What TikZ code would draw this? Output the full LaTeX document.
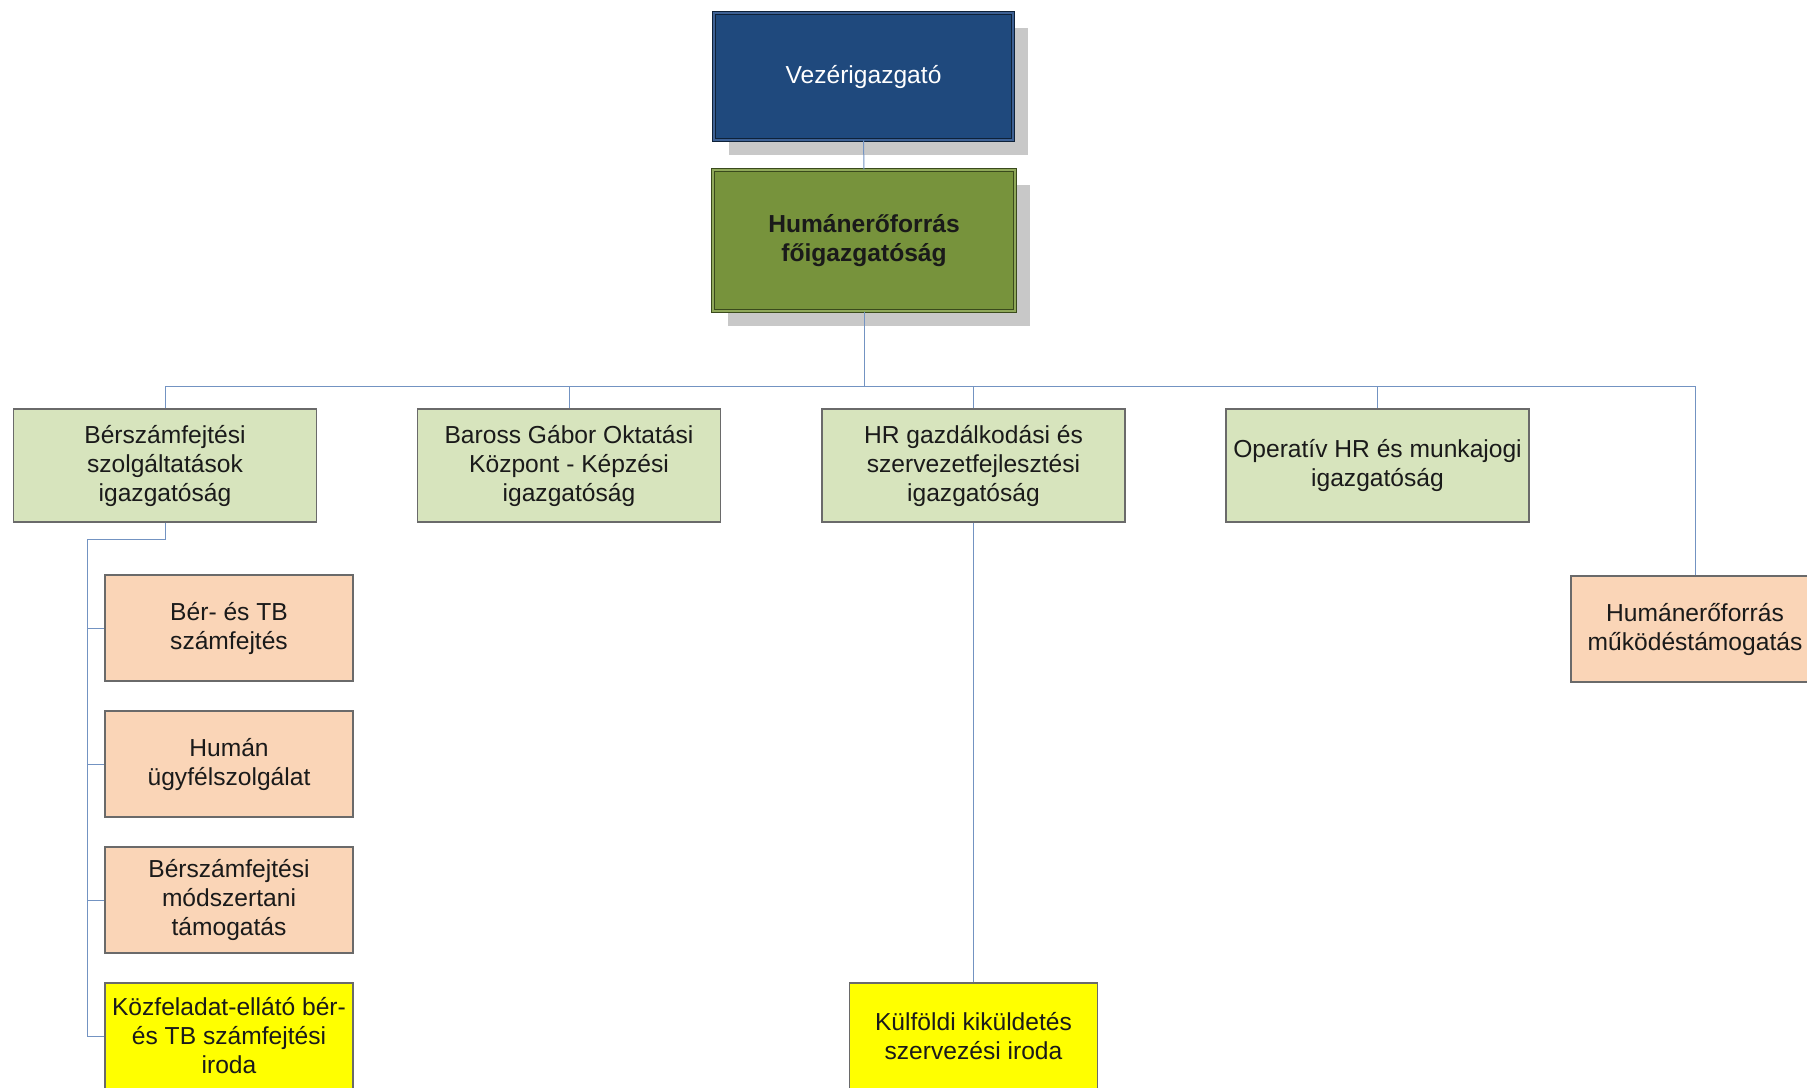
\documentclass[tikz,border=0pt]{standalone}
\usepackage{fontspec}
\setmainfont{Liberation Sans}
\usetikzlibrary{shadows}
\definecolor{vezfill}{HTML}{1F497D}
\definecolor{vezline}{HTML}{0E2138}
\definecolor{vezgap}{HTML}{3E6194}
\definecolor{hrfill}{HTML}{77933C}
\definecolor{hrline}{HTML}{3A4A1C}
\definecolor{hrgap}{HTML}{8FA85A}
\definecolor{lvfill}{HTML}{D7E4BD}
\definecolor{orfill}{HTML}{FAD5B7}
\definecolor{yefill}{HTML}{FFFF00}
\definecolor{boxline}{HTML}{6A6A6A}
\definecolor{connc}{HTML}{7393C2}
\definecolor{shadowc}{HTML}{C8C8C8}
\definecolor{txt}{HTML}{1A1A1A}
\begin{document}
\begin{tikzpicture}[x=1pt,y=-1pt,
  txtfont/.style={font=\fontsize{24.6}{29}\selectfont, text=txt, align=center, inner sep=2pt},
  topbox/.style={txtfont, line width=1pt, double distance=2.5pt,
     drop shadow={shadow xshift=15pt, shadow yshift=-15pt, fill=shadowc, opacity=1}},
  levbox/.style={txtfont, draw=boxline, line width=1.1pt, fill=lvfill, minimum width=303pt, minimum height=113pt},
  subbox/.style={txtfont, draw=boxline, line width=1.1pt, fill=orfill, minimum width=248pt, minimum height=106pt},
  yelbox/.style={subbox, fill=yefill},
  conn/.style={draw=connc, line width=1pt}
]
\useasboundingbox (0,0) rectangle (1807,1087);
\clip (0,0) rectangle (1807,1087);
\fill[white] (0,0) rectangle (1807,1087);

% top boxes
\node[topbox, draw=vezline, double=vezgap, fill=vezfill, text=white, minimum width=299pt, minimum height=127pt] (vez) at (863.5,76.5) {Vezérigazgató};
\node[topbox, draw=hrline, double=hrgap, fill=hrfill, minimum width=302pt, minimum height=141pt, font=\fontsize{24.6}{29}\selectfont\bfseries] (hr) at (864,240.5) {Humánerőforrás\\főigazgatóság};

% second level
\node[levbox] (b1) at (165,465.5) {Bérszámfejtési\\szolgáltatások\\igazgatóság};
\node[levbox] (b2) at (569,465.5) {Baross Gábor Oktatási\\Központ - Képzési\\igazgatóság};
\node[levbox] (b3) at (973.5,465.5) {HR gazdálkodási és\\szervezetfejlesztési\\igazgatóság};
\node[levbox] (b4) at (1377.5,465.5) {Operatív HR és munkajogi\\igazgatóság};
\node[subbox] (mt) at (1695,629) {Humánerőforrás\\működéstámogatás};

% left sub boxes
\node[subbox] (s1) at (229,628) {Bér- és TB\\számfejtés};
\node[subbox] (s2) at (229,764) {Humán\\ügyfélszolgálat};
\node[subbox] (s3) at (229,900) {Bérszámfejtési\\módszertani\\támogatás};
\node[yelbox] (s4) at (229,1036) {Közfeladat-ellátó bér-\\és TB számfejtési\\iroda};

% middle bottom
\node[yelbox] (kulf) at (973.5,1036) {Külföldi kiküldetés\\szervezési iroda};

% connectors
\coordinate (bus) at (864,386);
\coordinate (lbus) at (87,539);
\draw[conn] (vez.south) -- (hr.north);
\draw[conn] (hr.south) -- (bus);
\draw[conn] (b1.north) |- (bus);
\draw[conn] (b2.north) |- (bus);
\draw[conn] (b3.north) |- (bus);
\draw[conn] (b4.north) |- (bus);
\draw[conn] (mt.north) |- (bus);
\draw[conn] (b1.south) |- (lbus) -- (lbus |- s4.west) -- (s4.west);
\draw[conn] (lbus |- s1.west) -- (s1.west);
\draw[conn] (lbus |- s2.west) -- (s2.west);
\draw[conn] (lbus |- s3.west) -- (s3.west);
\draw[conn] (b3.south) -- (kulf.north);
\end{tikzpicture}
\end{document}
